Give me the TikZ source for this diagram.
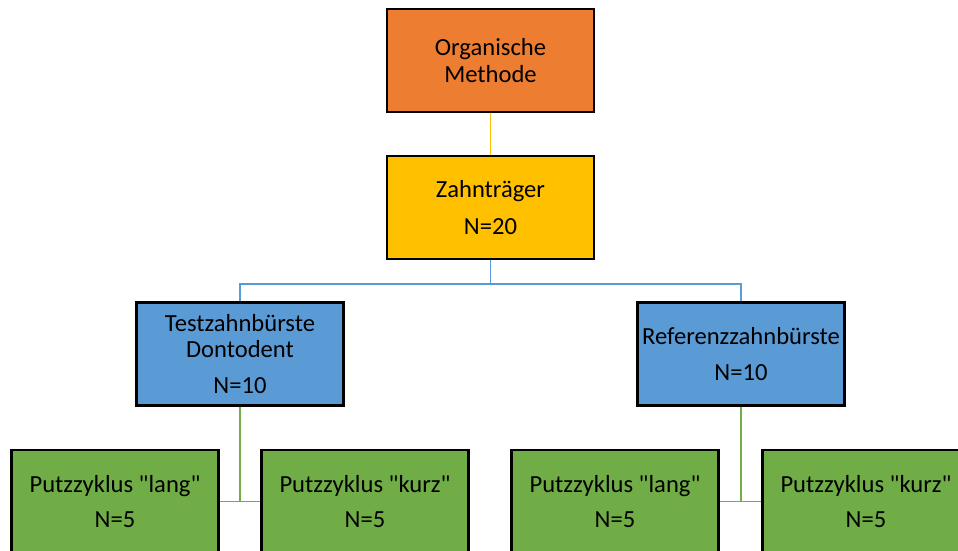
\documentclass[tikz,border=0pt]{standalone}
\usepackage{fontspec}
\setmainfont{Carlito}

\definecolor{methorange}{HTML}{ED7D31}
\definecolor{traegeryellow}{HTML}{FFC000}
\definecolor{buerstblue}{HTML}{5B9BD5}
\definecolor{zyklusgreen}{HTML}{70AD47}

\tikzset{
  box/.style={draw=black, line width=1.3pt, minimum width=4.14cm,
    minimum height=2.06cm, inner sep=1pt, align=center,
    font=\fontsize{14}{15}\selectfont},
  link/.style={line width=1.1pt},
}

\begin{document}
\begin{tikzpicture}[x=0.02cm, y=-0.02cm]
    \clip (0,0) rectangle (958,551);
    \node[box, fill=methorange] (meth) at (490.5,60.5) {Organische\\Methode};
    \node[box, fill=traegeryellow] (traeger) at (490.5,207.5) {Zahnträger\\[6pt]N=20};
    \node[box, fill=buerstblue] (test) at (240,354) {Testzahnbürste\\Dontodent\\[5.4pt]N=10};
    \node[box, fill=buerstblue] (ref) at (741,354) {Referenzzahnbürste\\[5pt]N=10};
    \foreach \n/\x/\t in {g1/115/lang, g2/365/kurz, g3/615/lang, g4/866/kurz}
      \node[box, fill=zyklusgreen] (\n) at (\x,501.5)
        {Putzzyklus \textquotedbl\t\textquotedbl\\[5pt]N=5};
    % connectors
    \draw[link, traegeryellow] (meth) -- (traeger);
    \draw[link, buerstblue] (traeger.south) -- ++(0,24) -| (test.north);
    \draw[link, buerstblue] (traeger.south) -- ++(0,24) -| (ref.north);
    \draw[link, zyklusgreen] (test.south) -- (test.south |- g1.east);
    \draw[link, zyklusgreen] (g1.east) -- (g2.west);
    \draw[link, zyklusgreen] (ref.south) -- (ref.south |- g3.east);
    \draw[link, zyklusgreen] (g3.east) -- (g4.west);
  \end{tikzpicture}
\end{document}
